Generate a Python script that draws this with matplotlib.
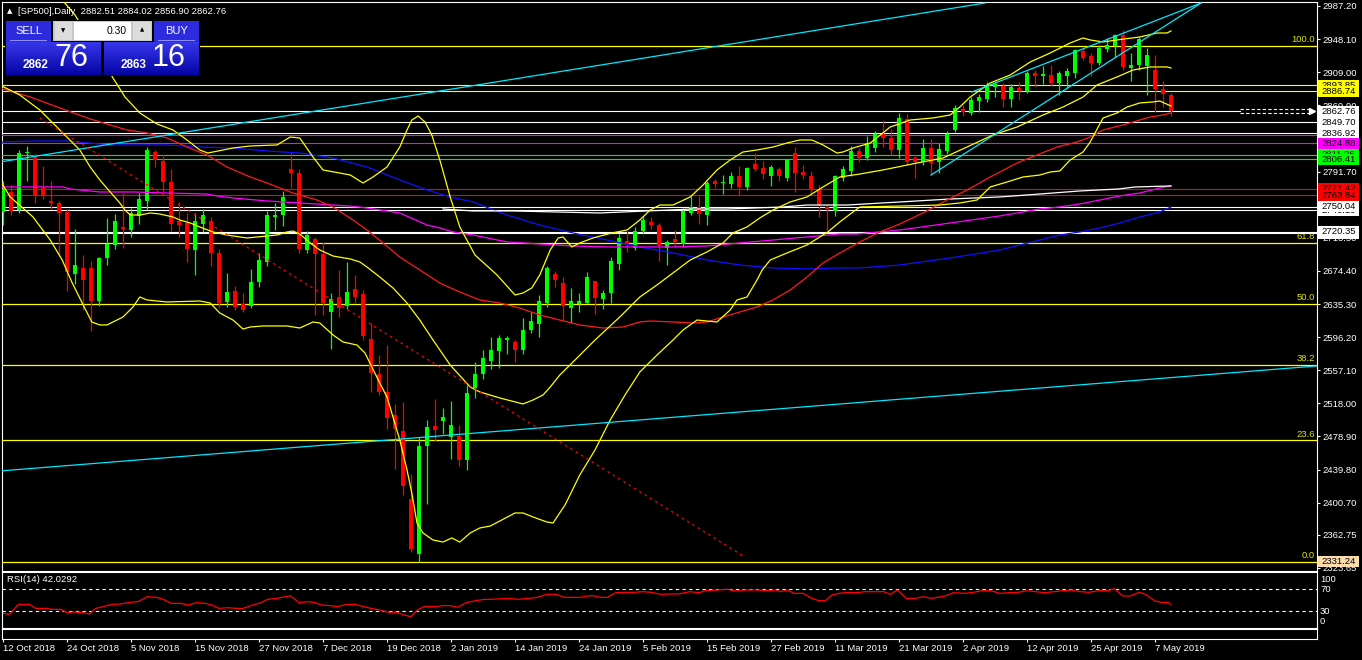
import matplotlib
matplotlib.use("Agg")
import matplotlib.pyplot as plt
import numpy as np
from matplotlib.patches import Rectangle
from matplotlib.transforms import IdentityTransform

plt.rcParams['font.family'] = ['Liberation Sans', 'DejaVu Sans']

W, H = 1362, 660

symbol = "[SP500],Daily"
last_ohlc = "2882.51 2884.02 2856.90 2862.76"
rsi_title = "RSI(14) 42.0292"
bid_big, bid_small = "76", "2862"
ask_big, ask_small = "16", "2863"
lot = "0.30"

# daily candles, 12 Oct 2018 .. 9 May 2019
opens = [2744, 2767, 2746, 2814, 2811, 2772, 2757, 2755, 2744, 2671,
         2678, 2678, 2639, 2690, 2705, 2726, 2723, 2739, 2757, 2815,
         2804, 2779, 2733, 2731, 2699, 2730, 2733, 2695, 2638, 2651,
         2635, 2633, 2661, 2685, 2738, 2740, 2795, 2790, 2699, 2712,
         2694, 2626, 2644, 2633, 2653, 2647, 2594, 2553, 2531, 2504,
         2485, 2405, 2340, 2468, 2491, 2497, 2478, 2480, 2451, 2536,
         2553, 2568, 2580, 2593, 2591, 2581, 2605, 2612, 2637, 2671,
         2660, 2631, 2635, 2637, 2662, 2641, 2648, 2683, 2710, 2701,
         2722, 2732, 2729, 2702, 2712, 2706, 2743, 2750, 2740, 2781,
         2778, 2777, 2786, 2773, 2801, 2796, 2787, 2795, 2784, 2814,
         2791, 2787, 2770, 2750, 2745, 2784, 2792, 2816, 2808, 2819,
         2836, 2831, 2817, 2854, 2808, 2803, 2820, 2803, 2816, 2841,
         2865, 2861, 2875, 2877, 2892, 2893, 2877, 2890, 2887, 2908,
         2904, 2906, 2896, 2905, 2908, 2934, 2928, 2920, 2936, 2940,
         2953, 2914, 2917, 2916, 2912, 2889, 2882.51]
highs = [2781, 2776, 2817, 2822, 2813, 2798, 2780, 2757, 2748, 2724,
         2693, 2686, 2691, 2737, 2742, 2766, 2749, 2766, 2821, 2817,
         2813, 2795, 2756, 2743, 2743, 2747, 2738, 2700, 2672, 2657,
         2648, 2677, 2696, 2745, 2755, 2769, 2815, 2795, 2722, 2714,
         2709, 2648, 2675, 2685, 2670, 2652, 2613, 2575, 2587, 2517,
         2520, 2435, 2478, 2498, 2523, 2512, 2521, 2493, 2540, 2567,
         2581, 2596, 2599, 2597, 2593, 2619, 2626, 2646, 2680, 2674,
         2667, 2654, 2648, 2673, 2663, 2652, 2691, 2718, 2721, 2726,
         2739, 2738, 2731, 2711, 2723, 2749, 2763, 2763, 2780, 2783,
         2788, 2791, 2798, 2797, 2814, 2804, 2799, 2797, 2807, 2821,
         2799, 2792, 2776, 2752, 2788, 2798, 2822, 2819, 2834, 2840,
         2853, 2842, 2861, 2860, 2811, 2830, 2830, 2826, 2840, 2870,
         2870, 2880, 2883, 2898, 2897, 2896, 2895, 2897, 2911, 2912,
         2916, 2917, 2911, 2914, 2936, 2938, 2932, 2941, 2949, 2954,
         2959, 2932, 2950, 2938, 2929, 2899, 2884.02]
lows = [2729, 2741, 2743, 2781, 2755, 2759, 2747, 2692, 2651, 2659,
        2628, 2604, 2633, 2681, 2700, 2701, 2714, 2730, 2746, 2797,
        2768, 2722, 2715, 2685, 2670, 2720, 2680, 2631, 2632, 2628,
        2626, 2631, 2656, 2680, 2723, 2727, 2772, 2696, 2695, 2622,
        2622, 2582, 2620, 2630, 2637, 2593, 2531, 2528, 2488, 2441,
        2410, 2343, 2331.24, 2399, 2473, 2482, 2452, 2444, 2439, 2524,
        2547, 2559, 2560, 2576, 2567, 2576, 2601, 2596, 2632, 2656,
        2616, 2613, 2626, 2636, 2624, 2630, 2636, 2676, 2697, 2699,
        2718, 2724, 2686, 2681, 2703, 2703, 2740, 2730, 2729, 2772,
        2765, 2772, 2764, 2770, 2792, 2783, 2775, 2781, 2780, 2767,
        2783, 2766, 2738, 2723, 2739, 2780, 2786, 2803, 2805, 2815,
        2821, 2811, 2808, 2800, 2784, 2800, 2788, 2790, 2812, 2838,
        2857, 2858, 2862, 2874, 2880, 2868, 2868, 2876, 2884, 2891,
        2895, 2893, 2882, 2890, 2902, 2923, 2904, 2917, 2933, 2927,
        2912, 2899, 2912, 2882, 2862, 2868, 2856.90]
closes = [2771, 2745, 2814, 2815, 2764, 2764, 2755, 2743, 2673, 2681,
          2664, 2639, 2690, 2706, 2733, 2724, 2743, 2759, 2817, 2805,
          2779, 2730, 2729, 2700, 2733, 2741, 2695, 2636, 2649, 2632,
          2628, 2661, 2687, 2741, 2741, 2762, 2790, 2700, 2717, 2694,
          2636, 2641, 2631, 2650, 2644, 2597, 2554, 2531, 2501, 2488,
          2420, 2346, 2468, 2490, 2487, 2502, 2492, 2451, 2530, 2553,
          2571, 2581, 2595, 2595, 2581, 2605, 2615, 2639, 2678, 2664,
          2633, 2639, 2639, 2667, 2643, 2648, 2686, 2713, 2705, 2722,
          2734, 2729, 2704, 2709, 2708, 2745, 2750, 2742, 2778, 2777,
          2779, 2787, 2773, 2796, 2795, 2789, 2797, 2787, 2806, 2790,
          2788, 2770, 2752, 2748, 2787, 2795, 2816, 2808, 2826, 2836,
          2831, 2817, 2855, 2803, 2803, 2820, 2802, 2818, 2836, 2867,
          2862, 2876, 2880, 2894, 2895, 2877, 2892, 2887, 2908, 2905,
          2907, 2896, 2908, 2911, 2935, 2926, 2920, 2937, 2941, 2953,
          2915, 2917, 2948, 2929, 2889, 2883, 2862.76]

date_labels = ["12 Oct 2018", "24 Oct 2018", "5 Nov 2018", "15 Nov 2018", "27 Nov 2018",
               "7 Dec 2018", "19 Dec 2018", "2 Jan 2019", "14 Jan 2019", "24 Jan 2019",
               "5 Feb 2019", "15 Feb 2019", "27 Feb 2019", "11 Mar 2019", "21 Mar 2019",
               "2 Apr 2019", "12 Apr 2019", "25 Apr 2019", "7 May 2019"]
date_bars = [0, 8, 16, 24, 32, 40, 48, 56, 64, 72, 80, 88, 96, 104, 112, 120, 128, 136, 144]

price_ticks = [2987.20, 2948.10, 2909.00, 2869.90, 2830.80, 2791.70, 2752.60, 2713.50,
               2674.40, 2635.30, 2596.20, 2557.10, 2518.00, 2478.90, 2439.80, 2400.70,
               2362.75, 2323.65]

# bollinger bands (bar, price)
bb_upper = [(-0.4, 3000.0), (2.75, 3004.0), (5.25, 3004.0), (7.4, 2994.3), (9.0, 2976.6),
            (10.9, 2947.0), (12.1, 2929.4), (13.75, 2902.2), (15.25, 2879.7), (17.1, 2860.9),
            (19.25, 2847.9), (21.25, 2840.8), (23.0, 2829.0), (24.6, 2817.2), (25.6, 2813.6),
            (28.75, 2819.5), (30.9, 2821.9), (34.25, 2823.1), (35.9, 2832.5), (37.1, 2831.3),
            (38.75, 2808.9), (40.0, 2793.6), (43.4, 2787.7), (45.0, 2778.2), (46.25, 2785.3),
            (48.0, 2797.1), (49.6, 2820.7), (50.5, 2840.8), (51.1, 2852.6), (51.9, 2857.3),
            (52.75, 2850.2), (53.6, 2834.9), (54.6, 2805.4), (55.9, 2761.7), (57.1, 2726.3),
            (59.0, 2693.2), (61.75, 2669.6), (64.0, 2646.0), (65.0, 2648.3), (66.1, 2654.3),
            (67.1, 2669.6), (68.4, 2699.1), (69.4, 2713.3), (70.0, 2714.5), (71.1, 2702.7),
            (72.1, 2707.4), (73.75, 2713.3), (76.1, 2719.2), (78.0, 2722.7), (79.6, 2734.5),
            (80.9, 2746.3), (82.1, 2752.2), (83.75, 2752.2), (85.9, 2761.7), (87.5, 2775.8),
            (89.25, 2793.6), (90.9, 2805.4), (92.5, 2814.8), (94.25, 2817.2), (96.25, 2820.7),
            (98.0, 2825.4), (99.6, 2829.0), (101.1, 2829.0), (102.5, 2823.1), (104.25, 2813.6),
            (105.0, 2814.8), (106.25, 2819.5), (108.4, 2825.4), (110.9, 2844.3), (113.4, 2852.6),
            (116.25, 2855.0), (118.4, 2858.5), (119.6, 2867.9), (120.9, 2879.7), (123.4, 2896.3),
            (125.9, 2905.7), (128.4, 2921.1), (130.9, 2931.7), (133.4, 2943.5), (135.0, 2949.4),
            (135.9, 2947.1), (137.5, 2944.7), (139.25, 2947.1), (142.1, 2950.6), (144.25, 2955.3),
            (145.5, 2955.3), (146.0, 2957.7)]
bb_middle = [(-0.4, 2893.9), (2.1, 2882.1), (4.6, 2864.4), (7.1, 2840.8), (9.6, 2817.2),
             (10.9, 2797.1), (12.1, 2781.8), (13.4, 2767.6), (14.6, 2754.6), (15.25, 2746.3),
             (15.9, 2740.4), (17.1, 2740.4), (18.4, 2742.8), (19.6, 2741.6), (21.25, 2738.1),
             (22.1, 2734.5), (23.4, 2731.0), (24.6, 2726.3), (26.25, 2720.4), (28.0, 2716.8),
             (29.6, 2714.5), (30.5, 2713.3), (33.0, 2715.6), (34.25, 2716.8), (35.5, 2720.4),
             (36.25, 2721.5), (37.1, 2718.0), (38.4, 2707.4), (39.6, 2699.1), (41.25, 2692.0),
             (43.4, 2688.5), (44.6, 2685.0), (45.5, 2679.0), (47.1, 2667.2), (48.75, 2654.3),
             (50.5, 2636.5), (52.1, 2616.4), (53.75, 2592.9), (55.9, 2563.3), (58.4, 2537.3),
             (59.6, 2531.5), (62.1, 2524.4), (65.0, 2517.3), (66.25, 2522.0), (67.5, 2527.9),
             (68.4, 2537.3), (69.6, 2551.5), (71.5, 2569.2), (74.0, 2592.8), (77.1, 2620.0),
             (79.6, 2643.6), (81.75, 2657.8), (83.75, 2672.0), (85.9, 2687.3), (88.0, 2696.8),
             (90.0, 2707.4), (91.25, 2719.2), (93.0, 2726.3), (94.6, 2736.9), (96.25, 2746.3),
             (98.4, 2755.8), (100.5, 2761.7), (102.5, 2773.5), (104.6, 2785.3), (107.1, 2788.8),
             (110.0, 2793.6), (114.25, 2801.8), (117.5, 2807.7), (120.5, 2820.7), (123.75, 2834.9),
             (126.75, 2844.3), (130.0, 2858.5), (132.5, 2867.9), (135.0, 2879.7), (136.75, 2893.9),
             (139.25, 2903.4), (141.25, 2911.6), (143.4, 2915.2), (145.5, 2915.2), (146.0, 2914.0)]
bb_lower = [(-0.4, 2781.8), (0.9, 2761.7), (3.75, 2738.1), (5.9, 2710.9), (7.4, 2687.3),
            (8.6, 2661.3), (9.9, 2636.5), (11.1, 2614.1), (12.1, 2610.6), (13.0, 2610.6),
            (15.0, 2620.0), (16.25, 2631.8), (17.1, 2643.6), (18.0, 2640.1), (20.5, 2637.7),
            (24.6, 2638.9), (25.9, 2636.5), (27.1, 2624.7), (28.75, 2616.4), (30.0, 2605.8),
            (30.9, 2608.2), (32.5, 2609.4), (35.5, 2609.4), (37.1, 2607.0), (38.75, 2614.1),
            (39.6, 2612.9), (41.25, 2598.8), (42.5, 2590.5), (44.25, 2586.9), (45.25, 2577.5),
            (46.1, 2561.0), (47.1, 2542.1), (48.0, 2525.5), (48.75, 2501.9), (49.6, 2474.8),
            (50.5, 2439.4), (51.1, 2412.2), (51.75, 2376.8), (52.5, 2365.0), (53.75, 2356.7),
            (55.0, 2354.3), (56.1, 2359.1), (57.1, 2354.3), (58.4, 2365.0), (59.6, 2370.9),
            (60.9, 2373.2), (62.1, 2379.1), (64.0, 2388.6), (65.0, 2388.6), (66.25, 2383.9),
            (68.0, 2377.9), (68.75, 2376.8), (70.25, 2398.0), (72.1, 2433.5), (74.0, 2463.0),
            (75.9, 2498.4), (77.75, 2527.9), (79.6, 2555.0), (81.75, 2575.1), (83.75, 2592.8),
            (85.0, 2604.6), (86.75, 2616.4), (89.25, 2614.1), (90.9, 2628.3), (91.75, 2640.1),
            (93.0, 2643.6), (94.25, 2663.7), (94.9, 2675.5), (95.9, 2687.3), (98.0, 2695.6),
            (100.5, 2705.0), (102.1, 2714.5), (103.1, 2720.4), (104.6, 2732.2), (106.25, 2744.0),
            (107.1, 2749.9), (112.1, 2751.0), (117.1, 2752.2), (119.6, 2754.6), (121.75, 2758.1),
            (123.4, 2773.5), (125.5, 2779.4), (127.5, 2785.3), (129.6, 2787.6), (130.9, 2791.2),
            (132.1, 2792.4), (133.4, 2805.4), (135.0, 2814.8), (135.9, 2826.6), (137.5, 2854.9),
            (139.25, 2860.9), (140.5, 2867.9), (142.1, 2872.7), (143.75, 2873.9), (144.6, 2875.0),
            (146.0, 2869.1)]

# moving averages (bar, price)
ma_red = [(-0.4, 2890.4), (3.4, 2879.8), (7.1, 2866.8), (10.9, 2853.8), (15.5, 2840.8),
          (18.0, 2837.3), (20.5, 2831.4), (23.0, 2820.7), (25.5, 2811.3), (28.0, 2797.1),
          (30.9, 2785.3), (33.0, 2778.2), (36.25, 2766.4), (39.25, 2758.1), (41.25, 2749.9),
          (43.75, 2734.5), (45.5, 2722.7), (47.5, 2707.4), (49.6, 2690.8), (52.1, 2675.5),
          (54.6, 2660.1), (57.1, 2649.5), (59.6, 2640.1), (62.1, 2636.5), (64.6, 2630.6),
          (67.1, 2622.4), (69.6, 2616.4), (72.1, 2610.6), (75.0, 2607.0), (77.5, 2608.2),
          (79.6, 2614.1), (80.9, 2615.3), (83.75, 2614.1), (86.25, 2612.9), (88.0, 2614.1),
          (90.0, 2620.0), (92.1, 2625.9), (94.25, 2631.8), (96.25, 2640.1), (98.4, 2651.9),
          (100.5, 2667.2), (102.5, 2683.8), (104.6, 2695.6), (107.1, 2708.6), (109.6, 2720.4),
          (112.1, 2729.8), (115.25, 2744.0), (118.0, 2758.1), (120.5, 2769.9), (123.4, 2785.3),
          (126.75, 2801.8), (129.25, 2811.3), (131.75, 2820.7), (134.25, 2826.6), (135.9, 2832.5),
          (137.5, 2840.8), (140.0, 2846.7), (142.1, 2852.6), (143.4, 2856.1), (145.0, 2858.5),
          (146.0, 2860.9)]
ma_blue = [(-0.4, 2826.6), (3.75, 2827.8), (8.0, 2827.8), (13.4, 2823.1), (20.5, 2823.1),
           (24.6, 2820.7), (28.75, 2819.5), (33.0, 2816.0), (37.1, 2813.6), (41.25, 2807.7),
           (45.5, 2797.1), (49.6, 2781.8), (53.0, 2770.0), (55.9, 2761.7), (58.75, 2755.8),
           (63.0, 2740.4), (67.1, 2728.6), (71.25, 2719.2), (75.5, 2710.9), (79.6, 2702.7),
           (83.75, 2695.6), (88.0, 2687.3), (92.1, 2681.4), (96.25, 2677.9), (100.5, 2676.7),
           (104.6, 2677.9), (107.1, 2677.9), (112.1, 2681.4), (118.4, 2689.7), (124.6, 2699.1),
           (129.6, 2710.9), (132.1, 2716.8), (134.6, 2720.4), (137.1, 2725.1), (139.6, 2731.0),
           (142.1, 2738.1), (144.6, 2744.0), (146.0, 2749.9)]
ma_magenta = [(-0.4, 2773.5), (7.5, 2773.5), (8.4, 2771.1), (12.1, 2767.6), (16.25, 2767.6),
              (20.5, 2766.4), (25.5, 2765.2), (26.75, 2762.9), (28.75, 2760.5), (33.0, 2757.0),
              (37.1, 2754.6), (41.25, 2752.2), (43.4, 2751.0), (45.5, 2748.7), (49.6, 2742.8),
              (53.0, 2728.6), (54.6, 2725.1), (56.25, 2720.4), (58.75, 2716.8), (63.0, 2708.6),
              (67.1, 2706.2), (71.25, 2703.8), (75.5, 2702.7), (79.6, 2702.7), (83.75, 2702.7),
              (88.0, 2703.8), (92.1, 2707.4), (96.25, 2710.9), (100.5, 2714.5), (104.6, 2718.0),
              (106.75, 2718.0), (112.1, 2722.7), (118.4, 2731.0), (124.6, 2739.3), (129.6, 2747.5),
              (132.1, 2749.9), (134.6, 2753.4), (137.1, 2758.1), (139.6, 2762.9), (142.1, 2766.4),
              (144.6, 2772.3), (146.0, 2774.7)]
ma_white = [(55.0, 2747.5), (58.75, 2745.2), (63.6, 2745.2), (74.6, 2742.8), (80.5, 2745.2),
            (86.25, 2747.5), (90.5, 2747.5), (97.5, 2749.9), (100.5, 2752.2), (105.5, 2752.2),
            (112.1, 2755.8), (118.4, 2759.3), (124.6, 2761.7), (129.6, 2765.2), (134.6, 2768.8),
            (139.4, 2771.1), (141.5, 2773.5), (146.0, 2774.7)]

# trend lines: ((bar, price), (bar, price))
cyan_lines = [((-0.375, 2803.0), (122.75, 2990.7)),
              ((-0.375, 2438.2), (164.25, 2562.2)),
              ((116.0, 2787.6), (149.75, 2990.7)),
              ((121.1, 2885.6), (149.75, 2990.7))]
red_dotted = ((4.6, 2854.9), (92.75, 2336.6))

fib_low, fib_high = 2331.24, 2940.3
fib_levels = [0.0, 23.6, 38.2, 50.0, 61.8, 100.0]

hlines = [(2893.85, '#ffff00'), (2886.74, '#ffff00'),
          (2849.70, 'white'), (2836.92, 'white'),
          (2834.30, '#ff00ff'), (2824.88, '#ff00ff'),
          (2811.26, '#00ee00'), (2806.41, '#00ee00'),
          (2771.42, '#ff0000'), (2763.84, '#ff0000'),
          (2750.04, 'white'), (2746.10, 'white'),
          (2720.35, 'white'), (2718.60, 'white')]
current_price = 2862.76

# right-axis price tags in drawing order
tags = [(2893.85, '#ffff00'), (2886.74, '#ffff00'), (2834.30, '#ff00ff'),
        (2862.76, 'white'), (2849.70, 'white'), (2836.92, 'white'), (2824.88, '#ff00ff'),
        (2811.26, '#00ff00'), (2806.41, '#00ff00'), (2771.42, '#ff0000'), (2763.84, '#ff0000'),
        (2746.10, 'white'), (2750.04, 'white'), (2718.60, 'white'), (2720.35, 'white'),
        (2331.24, '#fcdcac')]

rsi_points = [(0.0, 25.7), (0.85, 23.9), (1.3, 31.8), (1.9, 42.1), (3.3, 42.1), (4.1, 34.8),
              (5.5, 34.8), (6.0, 33.0), (7.2, 33.0), (8.0, 27.0), (8.8, 28.2), (10.0, 27.0),
              (10.8, 24.5), (11.6, 34.8), (12.5, 37.9), (13.6, 42.1), (14.7, 42.7), (15.8, 45.7),
              (16.9, 47.0), (18.0, 56.0), (19.2, 54.8), (20.0, 51.2), (21.1, 43.9), (22.2, 43.9),
              (23.1, 40.9), (24.2, 45.1), (25.3, 43.9), (26.1, 40.9), (27.0, 34.8), (28.1, 36.0),
              (29.2, 34.8), (30.0, 34.8), (31.2, 40.9), (32.0, 43.9), (33.1, 51.2), (34.2, 53.0),
              (35.3, 56.0), (35.9, 57.9), (37.0, 45.1), (38.1, 47.0), (39.0, 45.1), (39.8, 40.9),
              (40.9, 39.7), (41.8, 37.9), (42.9, 42.1), (44.0, 42.1), (45.1, 37.9), (46.0, 34.8),
              (47.1, 31.8), (48.2, 27.6), (49.3, 27.6), (50.1, 22.7), (51.0, 19.7), (51.8, 31.8),
              (52.6, 37.9), (54.0, 37.9), (54.9, 39.7), (56.0, 39.7), (56.8, 36.6), (57.9, 45.1),
              (59.1, 48.8), (60.2, 51.2), (61.0, 51.2), (63.2, 53.0), (64.4, 51.2), (65.5, 53.0),
              (66.6, 54.2), (68.0, 60.3), (69.1, 60.3), (70.2, 54.8), (72.2, 54.8), (73.0, 57.3),
              (73.8, 57.9), (74.7, 54.8), (75.5, 54.8), (76.6, 63.3), (77.8, 63.9), (78.9, 63.9),
              (80.0, 65.1), (81.1, 63.9), (82.2, 60.3), (83.3, 60.9), (84.4, 60.9), (85.8, 65.1),
              (87.1, 63.3), (87.7, 66.9), (89.4, 68.2), (90.5, 69.4), (91.6, 66.3), (92.7, 68.2),
              (94.4, 68.2), (95.5, 66.9), (96.6, 68.2), (97.2, 65.1), (98.0, 68.2), (98.9, 62.1),
              (100.0, 62.1), (101.1, 53.0), (102.0, 48.8), (102.8, 48.8), (103.6, 59.1), (104.5, 62.1),
              (105.6, 63.9), (106.7, 63.3), (107.8, 65.1), (109.0, 65.1), (110.1, 65.1), (110.9, 60.3),
              (111.8, 68.2), (112.9, 53.0), (114.0, 53.0), (115.1, 56.0), (116.0, 53.0), (116.8, 54.8),
              (117.9, 57.9), (118.8, 63.3), (120.2, 62.1), (121.3, 63.9), (122.4, 66.9), (123.5, 66.9),
              (124.6, 62.1), (125.7, 63.3), (126.9, 63.9), (128.0, 66.9), (129.1, 65.1), (130.2, 63.3),
              (131.3, 65.1), (132.5, 66.9), (133.6, 68.2), (134.7, 65.1), (135.8, 63.9), (136.9, 66.9),
              (138.1, 66.9), (138.9, 70.6), (140.0, 57.3), (140.9, 57.3), (142.0, 63.9), (142.8, 60.3),
              (144.0, 48.2), (144.8, 45.7), (145.7, 45.1), (146.0, 42.03)]

# ---------------------------------------------------------------- layout helpers
fig = plt.figure(figsize=(W / 100, H / 100), dpi=100, facecolor='black')


def px_axes(x0, y0, x1, y1):
    a = fig.add_axes([x0 / W, 1 - y1 / H, (x1 - x0) / W, (y1 - y0) / H])
    a.set_facecolor('black')
    for s in a.spines.values():
        s.set_color('white')
        s.set_linewidth(0.8)
    return a


def prect(x0, y0, x1, y1, fc, z=20):
    fig.add_artist(Rectangle((x0, H - y1), x1 - x0, y1 - y0, transform=IdentityTransform(),
                             facecolor=fc, edgecolor='none', lw=0, zorder=z))


def ptext(x, y, s, z=21, **kw):
    fig.text(x / W, 1 - y / H, s, zorder=z, **kw)


def xy(points):
    return [p[0] for p in points], [p[1] for p in points]


# ---------------------------------------------------------------- main chart
ax = px_axes(2, 2, 1317, 571)
ax.set_xlim(-0.125, 164.25)
ax.set_ylim(2320.1, 2991.9)
ax.set_xticks([])
ax.yaxis.tick_right()
ax.set_yticks(price_ticks)
ax.set_yticklabels(["%.2f" % v for v in price_ticks])
ax.tick_params(axis='y', colors='white', labelsize=6.8, length=2.5, width=0.8, pad=1.5)

# horizontal objects
for lvl in fib_levels:
    p = fib_low + (fib_high - fib_low) * lvl / 100
    ax.axhline(p, color='#ffff00', lw=0.9, zorder=3)
    ax.text(164.0, p + 1.5, "%.1f" % lvl, color='#e4e400', fontsize=6.8, ha='right', va='bottom', zorder=3)
for p, c in hlines:
    ax.axhline(p, color=c, lw=0.8, zorder=3)
ax.plot([-0.125, 154.6], [current_price, current_price], color='white', lw=0.8, zorder=3)
for p in (current_price + 2.3, current_price - 1.6):
    ax.plot([154.6, 163.4], [p, p], color='white', lw=0.8, ls=(0, (3, 2)), zorder=3)
ax.plot([163.6], [current_price], marker='>', color='white', ms=4, zorder=3)

# candles
x = np.arange(len(opens))
o, hi, lo, c = map(np.array, (opens, highs, lows, closes))
col = np.where(c >= o, '#00ff00', '#ff0000')
ax.vlines(x, lo, hi, colors=col, lw=0.9, zorder=4)
ax.bar(x, np.maximum(np.abs(c - o), 1.0), bottom=np.minimum(o, c), width=0.62,
       color=col, lw=0, zorder=4)

# indicators
for pts, colr in ((ma_blue, '#1010ff'), (ma_magenta, '#ff00ff'), (ma_white, 'white'),
                  (ma_red, '#ff1a1a'), (bb_upper, '#ffff00'), (bb_middle, '#ffff00'),
                  (bb_lower, '#ffff00')):
    bx, by = xy(pts)
    ax.plot(bx, by, color=colr, lw=0.9, zorder=5)

for (b0, p0), (b1, p1) in cyan_lines:
    ax.plot([b0, b1], [p0, p1], color='#00e8ff', lw=0.9, zorder=5)
(b0, p0), (b1, p1) = red_dotted
ax.plot([b0, b1], [p0, p1], color='#ff0000', lw=0.9, ls=(0, (2, 3)), zorder=5)

# price tags on the right scale
for k, (p, fc) in enumerate(tags):
    yd = ax.transData.transform((0, p))[1]
    fig.add_artist(Rectangle((1318, yd - 5.5), 41, 11, transform=IdentityTransform(),
                             facecolor=fc, edgecolor='none', zorder=10 + 2 * k))
    ptext(1321, H - yd, "%.2f" % p, z=11 + 2 * k, color='black', fontsize=6.8, va='center', ha='left')

# ---------------------------------------------------------------- RSI
ar = px_axes(2, 572, 1317, 628)
ar.set_xlim(-0.125, 164.25)
ar.set_ylim(-0.9, 100.9)
ar.set_xticks([])
ar.set_yticks([])
for lv in (70, 30):
    ar.axhline(lv, color='white', lw=0.8, ls=(0, (3, 3)))
rx, ry = xy(rsi_points)
ar.plot(rx, ry, color='#ff0000', lw=0.9)
ar.text(0.5, 88, rsi_title, color='white', fontsize=6.8, va='center', ha='left')
for txt, yy in (("100", 580), ("70", 590), ("30", 612), ("0", 622)):
    ptext(1320, yy, txt, color='white', fontsize=6.8, va='center', ha='left')

# ---------------------------------------------------------------- empty pane + dates
ab = px_axes(2, 629, 1317, 639)
ab.set_xlim(-0.125, 164.25)
ab.set_yticks([])
ab.set_xticks(date_bars)
ab.set_xticklabels(date_labels, ha='left')
ab.tick_params(axis='x', colors='white', labelsize=6.8, length=2.2, width=0.8, pad=1.5)

# ---------------------------------------------------------------- header + trade panel
ptext(7, 11, "\u25b2", color='white', fontsize=5, va='center', ha='left',
      family=['DejaVu Sans'])
ptext(18, 11, symbol + "  " + last_ohlc, color='white', fontsize=6.8, va='center', ha='left')

prect(5, 20, 200, 76, 'black', z=19)
# sell / buy buttons
for x0, x1, lab in ((6, 51, "SELL"), (154, 199, "BUY")):
    prect(x0, 21, x1, 42, '#2c2cde')
    prect(x0 + 4, 40, x1 - 4, 41, '#8c8cff', z=21)
    ptext((x0 + x1) / 2, 30.5, lab, color='white', fontsize=8, ha='center', va='center', z=22)
# lot field
prect(53, 21, 152, 41, '#c8c8c8')
prect(55, 22, 72, 40, '#dcdcdc', z=21)
prect(74, 22, 131, 40, 'white', z=21)
prect(133, 22, 151, 40, '#dcdcdc', z=21)
ptext(63.5, 30.5, "\u25bc", color='black', fontsize=4, ha='center', va='center', z=22,
      family=['DejaVu Sans'])
ptext(142, 30, "\u25b2", color='black', fontsize=4, ha='center', va='center', z=22,
      family=['DejaVu Sans'])
ptext(127, 31, lot, color='black', fontsize=7.5, ha='right', va='center', z=22)
# price boxes with vertical gradient
top = np.array([0x36, 0x36, 0xea]) / 255
bot = np.array([0x04, 0x04, 0xa4]) / 255
for x0, x1, small, big in ((6, 101, bid_small, bid_big), (104, 199, ask_small, ask_big)):
    for r in range(42, 75):
        t = (r - 42) / 32
        prect(x0, r, x1, r + 1, tuple(top * (1 - t) + bot * t))
    ptext(x0 + 17, 65, small, color='white', fontsize=8.5, ha='left', va='center', z=22,
          fontweight='bold')
    ptext(x0 + 48, 58, big, color='white', fontsize=22, ha='left', va='center', z=22)

fig.savefig("out.png", dpi=100, facecolor='black')
